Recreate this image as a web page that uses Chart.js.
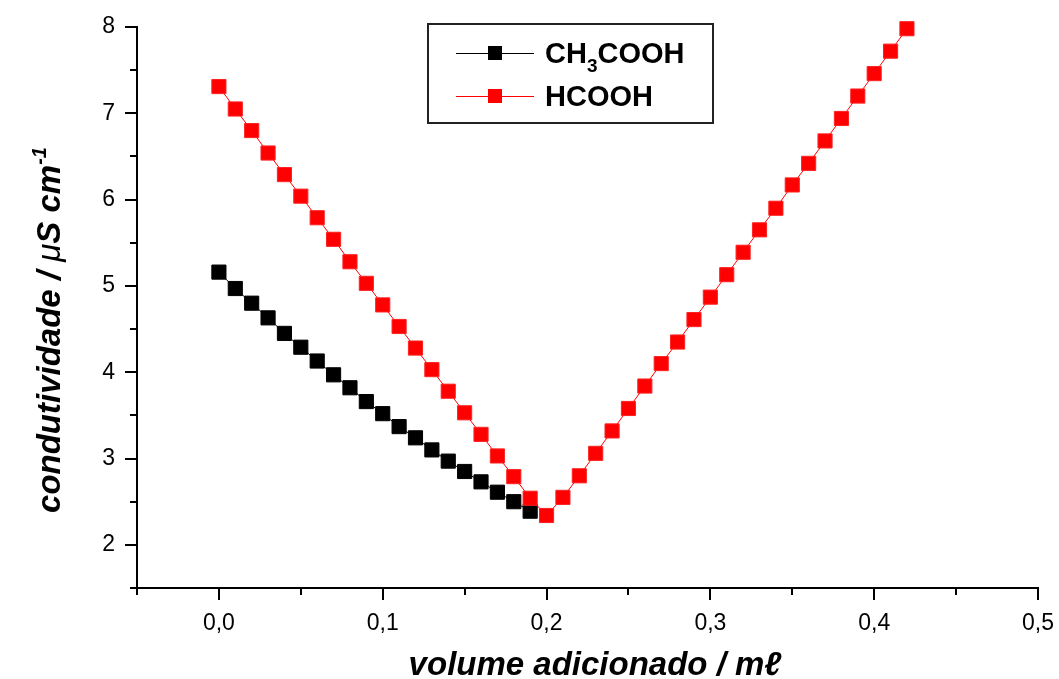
<!DOCTYPE html>
<html>
<head>
<meta charset="utf-8">
<script src="https://cdn.jsdelivr.net/npm/chart.js@4/dist/chart.umd.min.js"></script>
<style>
  html, body { margin: 0; background: #fff; }
  #wrap { width: 1059px; height: 679px; }
</style>
</head>
<body>
<div id="wrap"><canvas id="chart"></canvas></div>
<script>
// CH3COOH titration
const volCH3 = [0.00, 0.01, 0.02, 0.03, 0.04, 0.05, 0.06, 0.07, 0.08, 0.09,
                0.10, 0.11, 0.12, 0.13, 0.14, 0.15, 0.16, 0.17, 0.18, 0.19];
const condCH3 = [5.16, 4.97, 4.80, 4.63, 4.45, 4.29, 4.13, 3.97, 3.82, 3.66,
                 3.52, 3.37, 3.24, 3.10, 2.97, 2.85, 2.73, 2.61, 2.50, 2.39];

// HCOOH titration
const volHCOOH = [0.00, 0.01, 0.02, 0.03, 0.04, 0.05, 0.06, 0.07, 0.08, 0.09,
                  0.10, 0.11, 0.12, 0.13, 0.14, 0.15, 0.16, 0.17, 0.18, 0.19,
                  0.20, 0.21, 0.22, 0.23, 0.24, 0.25, 0.26, 0.27, 0.28, 0.29,
                  0.30, 0.31, 0.32, 0.33, 0.34, 0.35, 0.36, 0.37, 0.38, 0.39,
                  0.40, 0.41, 0.42];
const condHCOOH = [7.31, 7.05, 6.80, 6.54, 6.29, 6.04, 5.79, 5.54, 5.28, 5.03,
                   4.78, 4.53, 4.28, 4.03, 3.78, 3.53, 3.28, 3.03, 2.79, 2.54,
                   2.34, 2.55, 2.80, 3.06, 3.32, 3.58, 3.84, 4.10, 4.35, 4.61,
                   4.87, 5.13, 5.39, 5.65, 5.90, 6.17, 6.42, 6.68, 6.94, 7.20,
                   7.46, 7.72, 7.98];

const xLabels = ['0,0', '0,1', '0,2', '0,3', '0,4', '0,5'];
const yLabels = ['2', '3', '4', '5', '6', '7', '8'];

const FONT = '"Liberation Sans", Arial, Helvetica, sans-serif';

const isMajor = (v, step) => Math.abs(v / step - Math.round(v / step)) < 1e-6;

// stop chart.js from growing the margins for tick labels
const noPad = s => { s.paddingLeft = s.paddingRight = s.paddingTop = s.paddingBottom = 0; };

// ticks, axis titles and legend box
const decor = {
    id: 'decor',
    afterDraw(chart) {
        const { ctx, chartArea: a, scales: { x, y } } = chart;
        ctx.save();
        ctx.strokeStyle = '#000';
        ctx.lineWidth = 2;

        x.ticks.forEach(t => {
            const px = Math.round(x.getPixelForValue(t.value));
            const len = isMajor(t.value, 0.1) ? 12 : 7;
            ctx.beginPath();
            ctx.moveTo(px, a.bottom);
            ctx.lineTo(px, a.bottom + len);
            ctx.stroke();
        });
        y.ticks.forEach(t => {
            const py = Math.round(y.getPixelForValue(t.value));
            const len = isMajor(t.value, 1) ? 12 : 7;
            ctx.beginPath();
            ctx.moveTo(a.left, py);
            ctx.lineTo(a.left - len, py);
            ctx.stroke();
        });

        ctx.fillStyle = '#000';
        ctx.textBaseline = 'alphabetic';

        // x title
        ctx.font = 'italic bold 33px ' + FONT;
        ctx.textAlign = 'center';
        ctx.fillText('volume adicionado / m\u2113', 595, 675);

        // y title, drawn in pieces for the mu and superscript
        const parts = [
            { t: 'condutividade / ', f: 'italic bold 33px ' + FONT, dy: 0 },
            { t: '\u03bc', f: 'italic 33px ' + FONT, dy: 0 },
            { t: 'S cm', f: 'italic bold 33px ' + FONT, dy: 0 },
            { t: '-1', f: 'italic bold 20px ' + FONT, dy: -14 }
        ];
        let total = 0;
        parts.forEach(p => { ctx.font = p.f; p.w = ctx.measureText(p.t).width; total += p.w; });
        ctx.save();
        ctx.translate(60, 330);
        ctx.rotate(-Math.PI / 2);
        ctx.textAlign = 'left';
        let cx = -total / 2;
        parts.forEach(p => { ctx.font = p.f; ctx.fillText(p.t, cx, p.dy); cx += p.w; });
        ctx.restore();

        // legend
        ctx.strokeStyle = '#222';
        ctx.lineWidth = 2;
        ctx.strokeRect(428, 24, 285, 99);
        const rows = [
            { y: 53, color: '#000' },
            { y: 96, color: '#ff0000' }
        ];
        rows.forEach(r => {
            ctx.strokeStyle = r.color;
            ctx.lineWidth = 1;
            ctx.beginPath();
            ctx.moveTo(456, r.y + 0.5);
            ctx.lineTo(534, r.y + 0.5);
            ctx.stroke();
            ctx.fillStyle = r.color;
            ctx.fillRect(488, r.y - 7, 14, 14);
        });
        ctx.fillStyle = '#000';
        ctx.textAlign = 'left';
        ctx.font = 'bold 29px ' + FONT;
        let lx = 545;
        ctx.fillText('CH', lx, 63);
        lx += ctx.measureText('CH').width;
        ctx.font = 'bold 19px ' + FONT;
        ctx.fillText('3', lx, 72);
        lx += ctx.measureText('3').width;
        ctx.font = 'bold 29px ' + FONT;
        ctx.fillText('COOH', lx, 63);
        ctx.fillText('HCOOH', 545, 106);

        ctx.restore();
    }
};

new Chart(document.getElementById('chart'), {
    type: 'line',
    data: {
        datasets: [
            {
                label: 'CH3COOH',
                data: volCH3.map((v, i) => ({ x: v, y: condCH3[i] })),
                borderColor: '#000',
                backgroundColor: '#000',
                borderWidth: 1,
                pointStyle: 'rect',
                pointRadius: 10,
                pointBorderWidth: 1,
                pointBorderColor: '#000',
                pointBackgroundColor: '#000',
                tension: 0,
                order: 1,
                clip: false
            },
            {
                label: 'HCOOH',
                data: volHCOOH.map((v, i) => ({ x: v, y: condHCOOH[i] })),
                borderColor: '#ff0000',
                backgroundColor: '#ff0000',
                borderWidth: 1,
                pointStyle: 'rect',
                pointRadius: 10,
                pointBorderWidth: 1,
                pointBorderColor: '#f22',
                pointBackgroundColor: '#ff0000',
                tension: 0,
                order: 0,
                clip: false
            }
        ]
    },
    options: {
        responsive: true,
        maintainAspectRatio: false,
        animation: false,
        layout: { padding: { top: 27, right: 21, left: 0, bottom: 0 } },
        plugins: {
            legend: { display: false },
            tooltip: { enabled: false }
        },
        scales: {
            x: {
                type: 'linear',
                min: -0.05,
                max: 0.5,
                afterFit: s => { s.height = 91; noPad(s); },
                grid: { display: false, drawTicks: false },
                border: { display: true, color: '#000', width: 2 },
                ticks: {
                    stepSize: 0.05,
                    autoSkip: false,
                    maxRotation: 0,
                    padding: 22,
                    color: '#000',
                    font: { family: FONT, size: 23 },
                    callback: v => {
                        const k = Math.round(v * 100);
                        return (k >= 0 && k % 10 === 0) ? xLabels[k / 10] : '';
                    }
                }
            },
            y: {
                type: 'linear',
                min: 1.5,
                max: 8,
                afterFit: s => { s.width = 137; noPad(s); },
                grid: { display: false, drawTicks: false },
                border: { display: true, color: '#000', width: 2 },
                ticks: {
                    stepSize: 0.5,
                    autoSkip: false,
                    padding: 22,
                    color: '#000',
                    font: { family: FONT, size: 23 },
                    callback: v => Number.isInteger(v) ? yLabels[v - 2] : ''
                }
            }
        }
    },
    plugins: [decor]
});
</script>
</body>
</html>
